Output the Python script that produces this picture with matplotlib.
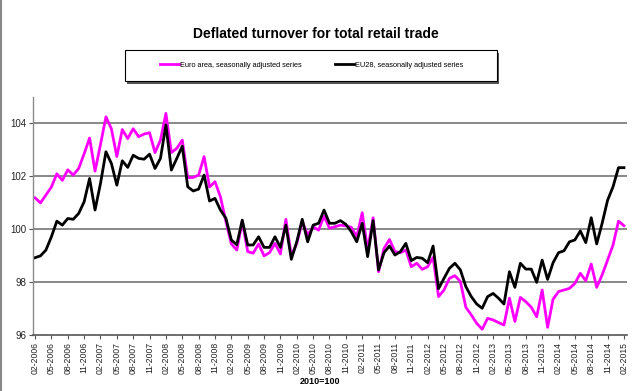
import matplotlib
matplotlib.use("Agg")
import matplotlib.pyplot as plt
from matplotlib.patches import Rectangle
from matplotlib.lines import Line2D
import pandas as pd

plt.rcParams['font.family'] = ['Liberation Sans', 'DejaVu Sans']

# monthly categories 02-2006 .. 02-2015
months = [p.strftime('%m-%Y') for p in pd.period_range('2006-02', '2015-02', freq='M')]

# Euro area, seasonally adjusted (2010=100)
euro_area = [
    101.19, 101.0, 101.3, 101.6, 102.1, 101.85, 102.25, 102.05, 102.3, 102.85,
    103.45, 102.2, 103.2, 104.25, 103.8, 102.75, 103.77, 103.43, 103.8, 103.5,
    103.6, 103.65, 102.9, 103.37, 104.38, 102.9, 103.06, 103.37, 101.96, 101.96,
    102.05, 102.75, 101.6, 101.8, 101.23, 100.3, 99.45, 99.22, 100.3, 99.16,
    99.1, 99.45, 99.0, 99.12, 99.47, 99.07, 100.38, 99.0, 99.47, 100.29,
    99.79, 100.1, 99.97, 100.5, 100.04, 100.1, 100.16, 100.13, 100.08, 99.72,
    100.63, 99.22, 100.44, 98.4, 99.28, 99.62, 99.16, 99.12, 99.22, 98.59,
    98.72, 98.49, 98.59, 98.94, 97.46, 97.71, 98.15, 98.25, 98.03, 97.06,
    96.77, 96.45, 96.23, 96.64, 96.58, 96.48, 96.39, 97.4, 96.52, 97.43,
    97.27, 97.06, 96.7, 97.71, 96.3, 97.36, 97.65, 97.71, 97.77, 97.96,
    98.34, 98.06, 98.69, 97.81, 98.28, 98.84, 99.41, 100.31, 100.14,
]

# EU28, seasonally adjusted (2010=100)
eu28 = [
    98.93, 99.0, 99.22, 99.72, 100.31, 100.16, 100.41, 100.38, 100.6, 101.04,
    101.92, 100.73, 101.73, 102.93, 102.49, 101.67, 102.59, 102.34, 102.8, 102.68,
    102.65, 102.84, 102.3, 102.68, 103.94, 102.24, 102.68, 103.14, 101.61, 101.45,
    101.52, 102.05, 101.07, 101.17, 100.73, 100.42, 99.6, 99.42, 100.35, 99.41,
    99.41, 99.72, 99.32, 99.32, 99.72, 99.32, 100.16, 98.87, 99.53, 100.38,
    99.53, 100.16, 100.23, 100.73, 100.23, 100.23, 100.33, 100.19, 99.91, 99.53,
    100.23, 98.97, 100.33, 98.47, 99.12, 99.37, 99.03, 99.16, 99.47, 98.82,
    98.94, 98.91, 98.74, 99.37, 97.76, 98.15, 98.53, 98.72, 98.47, 97.84,
    97.46, 97.18, 97.02, 97.46, 97.58, 97.4, 97.18, 98.4, 97.81, 98.72,
    98.5, 98.5, 98.0, 98.84, 98.11, 98.74, 99.12, 99.19, 99.53, 99.6,
    99.94, 99.5, 100.44, 99.45, 100.23, 101.1, 101.61, 102.33, 102.33,
]

y_ticks = [96, 98, 100, 102, 104]

fig = plt.figure(figsize=(6.4, 3.91), dpi=100)
ax = fig.add_axes([0.0516, 0.1425, 0.928, 0.6095])

x = list(range(len(months)))
ax.plot(x, euro_area, color='#ff00ff', lw=2.0, label='Euro area, seasonally adjusted series')
ax.plot(x, eu28, color='black', lw=2.0, label='EU28, seasonally adjusted series')

ax.set_xlim(-0.37, len(months) - 1 + 0.55)
ax.set_ylim(96, 105)
ax.set_yticks(y_ticks)
ax.set_yticklabels([str(v) for v in y_ticks], fontsize=7, color='#222222')
ax.set_xticks(x[::3])
ax.set_xticklabels(months[::3], rotation=90, fontsize=6.2, color='#222222')
ax.tick_params(axis='both', direction='out', length=3, width=0.8, color='#555555', pad=2)

# horizontal grid lines
for v in y_ticks[1:]:
    ax.axhline(v, color='#7f7f7f', lw=1.3, zorder=0)

for side in ['top', 'right']:
    ax.spines[side].set_visible(False)
ax.spines['left'].set_color('#8a8a8a')
ax.spines['left'].set_linewidth(1.0)
ax.spines['bottom'].set_color('#555555')
ax.spines['bottom'].set_linewidth(1.2)

fig.text(0.494, 0.913, 'Deflated turnover for total retail trade', ha='center', va='center',
         fontsize=10, fontweight='bold')
fig.text(0.5, 0.025, '2010=100', ha='center', va='center', fontsize=6.5, fontweight='bold')

# legend box with drop shadow
bx, by, bw, bh = 0.195, 0.793, 0.581, 0.079
fig.add_artist(Rectangle((bx + 0.004, by - 0.008), bw, bh, transform=fig.transFigure,
                         facecolor='#555555', edgecolor='none', zorder=1))
fig.add_artist(Rectangle((bx, by), bw, bh, transform=fig.transFigure,
                         facecolor='white', edgecolor='black', lw=0.8, zorder=2))
leg = fig.legend(loc='center', bbox_to_anchor=(0.487, by + bh / 2), ncol=2,
                 frameon=False, fontsize=5.3, handlelength=2.6, handletextpad=0.1,
                 columnspacing=4.5)
leg.set_zorder(3)

# page edge on the left
fig.add_artist(Line2D([0.002, 0.002], [0, 1], transform=fig.transFigure, color='#888888', lw=1.5))

fig.savefig('out.png', dpi=100)
